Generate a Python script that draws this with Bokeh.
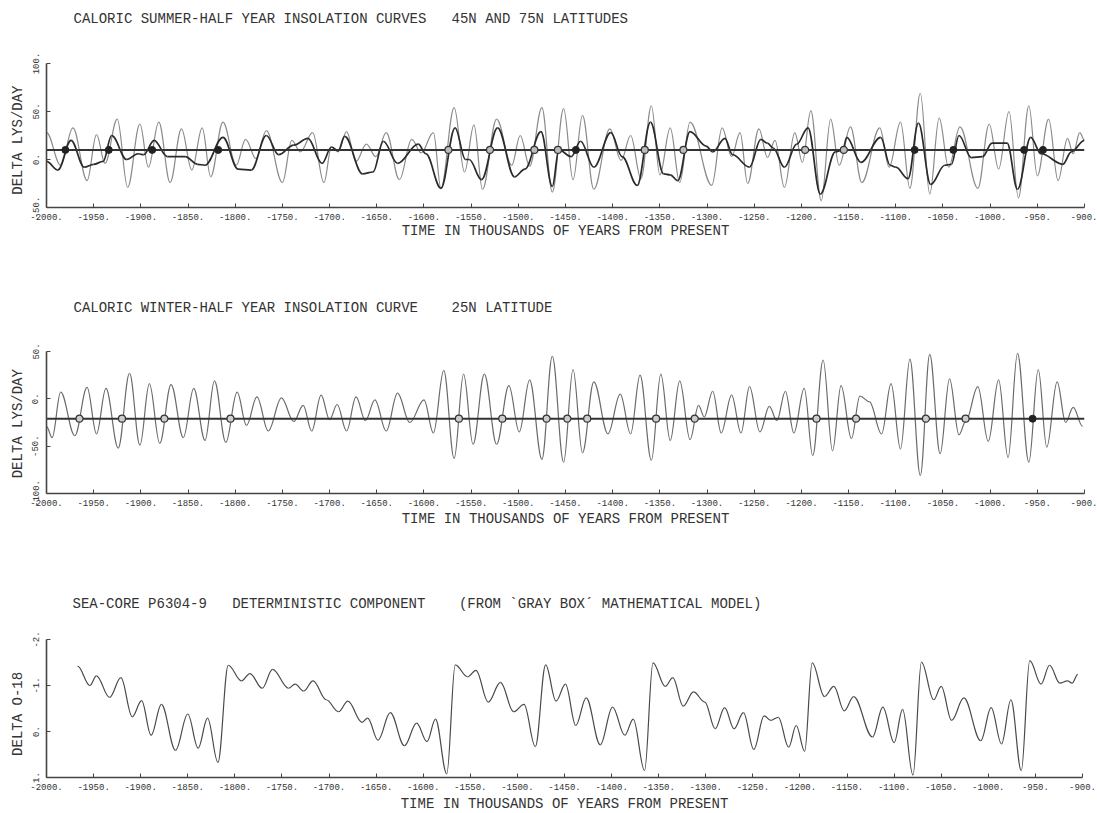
import numpy as np
from bokeh.plotting import figure
from bokeh.layouts import column
from bokeh.models import Range1d, FixedTicker, ColumnDataSource, Label
from bokeh.embed import file_html
from bokeh.resources import INLINE

# ---------------------------------------------------------------- data
# Caloric summer-half year insolation, 45N (turning points: time kyr, delta ly/day)
S45_T = [-2000, -1985, -1972, -1957, -1947, -1938, -1925, -1914, -1901, -1892, -1881, -1869,
         -1857, -1846, -1835, -1826, -1813, -1799, -1789, -1778, -1767, -1750, -1740, -1731,
         -1718, -1706, -1698, -1691, -1682, -1672, -1661, -1651, -1640, -1626, -1613, -1603,
         -1590, -1582, -1568, -1557, -1547, -1538, -1523, -1507, -1498, -1488, -1475, -1464,
         -1452, -1442, -1432, -1420, -1403, -1391, -1381, -1370, -1359, -1350, -1339, -1329,
         -1318, -1295, -1284, -1274, -1265, -1257, -1245, -1236, -1228, -1218, -1207, -1199,
         -1190, -1179, -1169, -1160, -1148, -1136, -1117, -1107, -1095, -1085, -1074, -1064,
         -1054, -1044, -1032, -1013, -1001, -991, -980, -970, -959, -950, -938, -928,
         -918, -912, -905, -900]
S45_V = [28, -6, 33, -22, 26, -4, 42, -29, 37, -8, 39, -24,
         32, -11, 33, -18, 39, -6, 21, 1, 30, -24, 20, 8,
         28, -24, 13, 8, 29, -2, 16, 3, 28, -21, 21, 7,
         28, -30, 54, -13, 36, -31, 42, -6, 25, -7, 54, -34,
         53, -21, 46, -31, 32, -1, 25, -20, 56, -16, 33, -24,
         39, -27, 33, 3, 28, -25, 32, 2, 20, -29, 28, -3,
         51, -43, 42, -6, 34, -24, 33, -8, 39, -30, 69, -36,
         43, -8, 34, -30, 37, -10, 50, -40, 56, -17, 42, -22,
         22, 6, 28, 20]

# Caloric summer-half year insolation, 75N
S75_T = [-2000, -1988, -1974, -1960, -1950, -1940, -1931, -1915, -1903, -1897, -1886, -1872,
         -1853, -1840, -1832, -1813, -1797, -1783, -1767, -1754, -1738, -1723, -1708, -1698,
         -1691, -1684, -1665, -1654, -1643, -1628, -1606, -1598, -1582, -1567, -1556, -1552,
         -1539, -1522, -1504, -1493, -1476, -1464, -1457, -1444, -1434, -1420, -1402, -1390,
         -1374, -1360, -1346, -1339, -1331, -1318, -1301, -1294, -1281, -1273, -1255, -1243,
         -1236, -1230, -1218, -1205, -1193, -1180, -1164, -1156, -1152, -1137, -1116, -1106,
         -1100, -1087, -1076, -1063, -1048, -1041, -1033, -1020, -1008, -998, -982, -971,
         -957, -946, -923, -914, -900]
S75_V = [-2, -11, 20, -8, -5, -2, 25, 0, 6, 5, 20, 3,
         3, -5, -6, 23, -10, -11, 25, 5, 15, 22, -4, 13,
         9, 24, -15, -13, 19, -4, 16, 6, -30, 33, 0, 0,
         -21, 33, -18, -10, 29, -28, 10, 3, 19, -8, 28, 3,
         -27, 39, -15, -16, -22, 29, 14, 8, 22, 5, -8, 21,
         17, 12, -8, 16, 33, -36, 8, 10, 23, -3, 23, -6,
         -8, -20, 38, -26, -6, -5, 25, 2, 3, 17, 17, -31,
         23, 6, -5, 8, 20]

S_MEAN = 10
S_MARK_FILLED = [-1980, -1934, -1888, -1818, -1439, -1080, -1039, -964, -944]
S_MARK_OPEN = [-1574, -1530, -1483, -1458, -1366, -1325, -1196, -1155]

# Caloric winter-half year insolation, 25N
W25_T = [-2000, -1994, -1985, -1970, -1957, -1947, -1937, -1924, -1912, -1901, -1891, -1880,
         -1868, -1855, -1844, -1832, -1822, -1810, -1798, -1788, -1777, -1765, -1751, -1738,
         -1728, -1719, -1709, -1700, -1692, -1682, -1672, -1662, -1652, -1640, -1628, -1615,
         -1600, -1590, -1579, -1568, -1558, -1548, -1536, -1523, -1510, -1499, -1488, -1475,
         -1464, -1452, -1442, -1432, -1420, -1405, -1392, -1381, -1371, -1359, -1349, -1339,
         -1329, -1318, -1309, -1303, -1294, -1285, -1274, -1264, -1255, -1244, -1234, -1226,
         -1217, -1208, -1197, -1188, -1177, -1167, -1158, -1147, -1138, -1128, -1115, -1105,
         -1095, -1085, -1074, -1064, -1053, -1043, -1033, -1026, -1013, -1002, -991, -981,
         -971, -959, -949, -940, -929, -920, -912, -902]
W25_V = [-29, -41, 7, -39, 12, -37, 11, -52, 27, -49, 16, -47,
         15, -41, 11, -44, 19, -46, 7, -28, 2, -34, 1, -24,
         -7, -34, 4, -22, -6, -34, 2, -23, -1, -34, 6, -25,
         -1, -36, 30, -63, 26, -48, 26, -48, 14, -35, 20, -64,
         45, -67, 31, -57, 18, -37, 5, -37, 25, -65, 26, -44,
         19, -43, -7, -19, 8, -36, 4, -36, 13, -35, -8, -23,
         8, -36, 11, -60, 41, -55, 14, -42, 3, -3, -37, 16,
         -53, 42, -81, 47, -58, 21, -38, -24, 13, -45, 20, -62,
         48, -67, 31, -51, 18, -25, -9, -29]

W_MEAN = -21
W_MARK_OPEN = [-1965, -1920, -1875, -1805, -1563, -1517, -1470, -1448, -1427, -1354,
               -1313, -1184, -1142, -1068, -1026]
W_MARK_FILLED = [-955]

# Sea-core P6304-9, deterministic component (delta O-18)
D18_T = [-1967, -1954, -1947, -1933, -1921, -1909, -1899, -1889, -1878, -1863, -1850, -1839,
         -1829, -1818, -1807, -1793, -1784, -1771, -1760, -1743, -1736, -1727, -1717, -1703,
         -1690, -1680, -1665, -1659, -1648, -1635, -1620, -1607, -1596, -1587, -1575, -1566,
         -1553, -1544, -1531, -1518, -1504, -1493, -1481, -1470, -1459, -1449, -1438, -1427,
         -1412, -1399, -1386, -1377, -1365, -1356, -1343, -1335, -1324, -1313, -1301, -1290,
         -1280, -1270, -1260, -1249, -1238, -1231, -1223, -1212, -1204, -1195, -1187, -1174,
         -1164, -1153, -1143, -1123, -1112, -1100, -1091, -1080, -1071, -1058, -1050, -1039,
         -1026, -1008, -997, -986, -976, -965, -956, -944, -935, -924, -916, -911, -905]
D18_V = [-1.42, -1.00, -1.21, -0.74, -1.17, -0.32, -0.67, 0.08, -0.59, 0.41, -0.38, 0.36,
         -0.29, 0.67, -1.44, -1.10, -1.26, -0.94, -1.35, -0.94, -1.03, -0.88, -1.10, -0.69,
         -0.43, -0.66, -0.20, -0.29, 0.19, -0.41, 0.31, -0.18, 0.22, -0.27, 0.92, -1.45,
         -1.19, -1.33, -0.64, -1.07, -0.43, -0.59, 0.33, -1.45, -0.66, -1.03, -0.13, -0.73,
         0.29, -0.53, 0.08, -0.27, 0.85, -1.49, -0.98, -1.17, -0.55, -0.86, -0.64, -0.06,
         -0.52, -0.06, -0.41, 0.39, -0.34, -0.24, -0.31, 0.34, -0.13, 0.43, -1.49, -0.76,
         -0.98, -0.45, -0.76, 0.12, -0.53, 0.24, -0.48, 0.95, -1.51, -0.69, -0.98, -0.24,
         -0.73, 0.20, -0.52, 0.27, -0.69, 0.85, -1.54, -1.03, -1.44, -1.05, -1.10, -1.05, -1.24]

X_TICKS = list(range(-2000, -899, 50))
X_TICK_LABELS = [f"{t}." for t in X_TICKS]
S_Y_TICKS = [-50, 0, 50, 100]
S_Y_LABELS = ["-50.", "0.", "50.", "100."]
W_Y_TICKS = [-100, -50, 0, 50]
W_Y_LABELS = ["-100.", "-50.", "0.", "50."]
D_Y_TICKS = [-2, -1, 0, 1]
D_Y_LABELS = ["-2.", "-1.", "0.", "1."]

NB = "\u00a0"
TITLE_S = "CALORIC SUMMER-HALF YEAR INSOLATION CURVES" + NB * 3 + "45N AND 75N LATITUDES"
TITLE_W = "CALORIC WINTER-HALF YEAR INSOLATION CURVE" + NB * 4 + "25N LATITUDE"
TITLE_D = ("SEA-CORE P6304-9" + NB * 3 + "DETERMINISTIC COMPONENT" + NB * 4
           + "(FROM `GRAY BOX\u00b4 MATHEMATICAL MODEL)")
X_LABEL = "TIME IN THOUSANDS OF YEARS FROM PRESENT"
Y_LABEL_LYS = "DELTA LYS/DAY"
Y_LABEL_O18 = "DELTA O-18"

# ---------------------------------------------------------------- styling
FONT = "Liberation Mono"
INK = "#333333"
X_LO, X_HI = -2000, -900


def panel(title, y_bottom, y_top, y_ticks, y_labels, y_label, y_label_pad,
          fw, fh, left, right, top, bottom, head, title_dx, title_dy, xlab_gap):
    """One plotter panel.  The frame reaches `head` px above the axis box so the
    heading can sit inside it; the y axis itself is bounded to [y_bottom, y_top]."""
    per_px = (y_top - y_bottom) / fh
    y_range = Range1d(y_bottom, y_top + per_px * head)
    p = figure(x_range=Range1d(X_LO, X_HI), y_range=y_range,
               frame_width=fw, frame_height=fh + head,
               min_border_left=left, min_border_right=right,
               min_border_top=top - head, min_border_bottom=bottom,
               output_backend="svg", toolbar_location=None)
    p.outline_line_color = None
    p.xgrid.visible = False
    p.ygrid.visible = False
    p.background_fill_color = "white"
    p.border_fill_color = "white"

    p.add_layout(Label(x=X_LO + title_dx * (X_HI - X_LO) / fw,
                       y=y_top + per_px * title_dy,
                       text=title, text_font=FONT, text_font_size="14px",
                       text_color=INK, text_baseline="middle", text_align="left"))

    p.xaxis.ticker = FixedTicker(ticks=X_TICKS)
    p.xaxis.major_label_overrides = dict(zip(X_TICKS, X_TICK_LABELS))
    p.yaxis.ticker = FixedTicker(ticks=y_ticks)
    p.yaxis.major_label_overrides = dict(zip(y_ticks, y_labels))
    p.yaxis.major_label_orientation = "vertical"
    p.yaxis.bounds = (min(y_bottom, y_top), max(y_bottom, y_top))
    p.xaxis.axis_label = X_LABEL
    # the y label is centred on the whole frame; pad its upper end so the
    # visible text sits alongside the bounded axis instead
    p.yaxis.axis_label = y_label + NB * y_label_pad
    for ax in (p.xaxis, p.yaxis):
        ax.axis_line_color = "#444444"
        ax.axis_line_width = 1.6
        ax.major_tick_line_color = "#444444"
        ax.major_tick_in = 4
        ax.major_tick_out = 0
        ax.minor_tick_line_color = None
        ax.major_label_text_font = FONT
        ax.major_label_text_font_size = "9px"
        ax.major_label_text_color = INK
        ax.axis_label_text_font = FONT
        ax.axis_label_text_font_size = "14px"
        ax.axis_label_text_font_style = "normal"
        ax.axis_label_text_color = INK
    p.xaxis.major_label_standoff = 6
    p.yaxis.major_label_standoff = 8
    p.xaxis.axis_label_standoff = xlab_gap
    p.yaxis.axis_label_standoff = 4
    return p


def smooth_curve(p, t, v, color, width):
    """Join successive turning points with cubic Bezier arcs (flat tangents)."""
    t = np.asarray(t, dtype=float)
    v = np.asarray(v, dtype=float)
    k = 0.3642 * np.diff(t)
    src = ColumnDataSource(dict(x0=t[:-1], y0=v[:-1], x1=t[1:], y1=v[1:],
                                cx0=t[:-1] + k, cy0=v[:-1],
                                cx1=t[1:] - k, cy1=v[1:]))
    p.bezier(x0="x0", y0="y0", x1="x1", y1="y1", cx0="cx0", cy0="cy0",
             cx1="cx1", cy1="cy1", source=src, line_color=color, line_width=width)


# ---------------------------------------------------------------- panel 1
p1 = panel(TITLE_S, -50, 100, S_Y_TICKS, S_Y_LABELS, Y_LABEL_LYS, 8,
           1038, 144, 43, 16, 63, 43, 58, 27, 45, 0)
smooth_curve(p1, S45_T, S45_V, "#8a8a8a", 1.2)
smooth_curve(p1, S75_T, S75_V, "#2a2a2a", 1.7)
p1.line([X_LO, X_HI], [S_MEAN, S_MEAN], line_color="#333333", line_width=2)
p1.scatter(S_MARK_OPEN, [S_MEAN] * len(S_MARK_OPEN), marker="circle", size=7,
           fill_color="#bbbbbb", line_color="#333333", line_width=1.2)
p1.scatter(S_MARK_FILLED, [S_MEAN] * len(S_MARK_FILLED), marker="circle", size=7,
           fill_color="#222222", line_color="#222222")

# ---------------------------------------------------------------- panel 2
p2 = panel(TITLE_W, -100, 50, W_Y_TICKS, W_Y_LABELS, Y_LABEL_LYS, 11,
           1038, 142, 43, 16, 101, 47, 90, 27, 44, 2)
smooth_curve(p2, W25_T, W25_V, "#6a6a6a", 1.2)
p2.line([X_LO, X_HI], [W_MEAN, W_MEAN], line_color="#333333", line_width=2)
p2.scatter(W_MARK_OPEN, [W_MEAN] * len(W_MARK_OPEN), marker="circle", size=7,
           fill_color="#cccccc", line_color="#333333", line_width=1.2)
p2.scatter(W_MARK_FILLED, [W_MEAN] * len(W_MARK_FILLED), marker="circle", size=7,
           fill_color="#222222", line_color="#222222")

# ---------------------------------------------------------------- panel 3
p3 = panel(TITLE_D, 1, -2, D_Y_TICKS, D_Y_LABELS, Y_LABEL_O18, 12,
           1036, 138, 46, 15, 99, 36, 90, 26, 36, 3)
smooth_curve(p3, D18_T, D18_V, "#4a4a4a", 1.2)

layout = column(p1, p2, p3, spacing=0)
open("out.html", "w").write(file_html(layout, INLINE))
